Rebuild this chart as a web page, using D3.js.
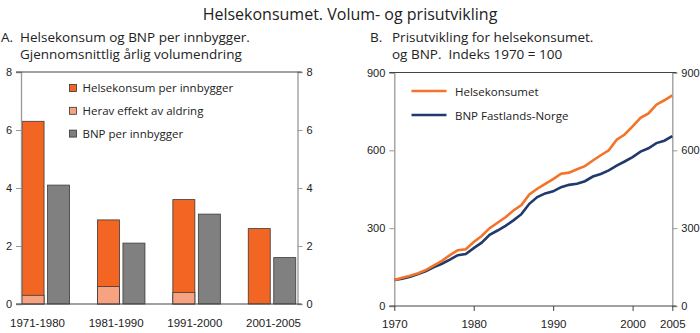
<!DOCTYPE html>
<html>
<head>
<meta charset="utf-8">
<script src="https://cdn.jsdelivr.net/npm/d3@7"></script>
<style>
  body { margin: 0; background: #fff; }
  svg { display: block; font-family: "Open Sans", "Noto Sans", sans-serif; }
</style>
</head>
<body>
<div id="chart"></div>
<script>
    // Panel A: average yearly volume growth per decade
    const perioder = ["1971-1980", "1981-1990", "1991-2000", "2001-2005"];
    const helsekonsum = [6.3, 2.9, 3.6, 2.6];
    const aldring = [0.3, 0.6, 0.4, 0];
    const bnpPerInnbygger = [4.1, 2.1, 3.1, 1.6];
    const ticksA = [0, 2, 4, 6, 8];

    // Panel B: price index, 1970 = 100
    const aar = d3.range(1970, 2006);
    const helsePris = [100, 109, 117, 126, 139, 157, 174, 196, 215, 219,
                       247, 270, 300, 321, 342, 368, 389, 430, 452, 471,
                       489, 510, 514, 527, 539, 561, 581, 600, 641, 661,
                       692, 725, 742, 776, 793, 812];
    const bnpPris = [100, 105, 113, 123, 135, 150, 163, 179, 196, 200,
                     223, 244, 274, 291, 309, 330, 354, 394, 420, 434,
                     442, 458, 467, 471, 481, 499, 509, 523, 541, 557,
                     574, 595, 608, 628, 637, 655];
    const ticksB = [0, 300, 600, 900];
    const aarTicks = [1970, 1980, 1990, 2000, 2005];

    const width = 700, height = 333;
    const farger = { helse: "#f26522", aldring: "#f7a382", bnp: "#808080",
                     linjeHelse: "#f37329", linjeBnp: "#1f3a6b" };

    const svg = d3.select("#chart").append("svg")
        .attr("width", width)
        .attr("height", height);

    svg.append("text")
        .attr("x", 350).attr("y", 20)
        .attr("text-anchor", "middle")
        .attr("font-size", 16)
        .attr("fill", "#222")
        .text("Helsekonsumet. Volum- og prisutvikling");

    // panel heading: letter in its own column, text indented
    function overskrift(g, x0, x1, linjer) {
        g.append("text").attr("font-size", 13.5).attr("fill", "#222")
            .selectAll("tspan")
            .data(linjer)
            .join("tspan")
            .attr("x", x0)
            .attr("y", (d, i) => 42 + i * 17)
            .call(t => t.append("tspan").text(d => d[0]))
            .call(t => t.append("tspan").attr("x", x1).text(d => d[1]));
    }

    // ---------- Panel A ----------
    const gA = svg.append("g");
    const yA = d3.scaleLinear().domain([0, 8]).range([304, 72]);
    const xA = d3.scalePoint().domain(perioder).range([45.8, 272]);
    const xLabA = d3.scalePoint().domain(perioder).range([37, 273]);
    const leftA = 21, rightA = 297.5, barW = 22, gap = 3.5;

    overskrift(gA, 1, 20, [["A.", "Helsekonsum og BNP per innbygger."],
                           ["", "Gjennomsnittlig årlig volumendring"]]);

    const bars = gA.append("g").selectAll("g")
        .data(perioder.map((p, i) => ({ p, h: helsekonsum[i], a: aldring[i], b: bnpPerInnbygger[i] })))
        .join("g");

    bars.append("rect")
        .attr("x", d => xA(d.p) - gap / 2 - barW)
        .attr("y", d => yA(d.h))
        .attr("width", barW)
        .attr("height", d => yA(0) - yA(d.h))
        .attr("fill", farger.helse)
        .attr("stroke", "#3a3a3a").attr("stroke-width", 0.8);

    bars.filter(d => d.a > 0).append("rect")
        .attr("x", d => xA(d.p) - gap / 2 - barW)
        .attr("y", d => yA(d.a))
        .attr("width", barW)
        .attr("height", d => yA(0) - yA(d.a))
        .attr("fill", farger.aldring)
        .attr("stroke", "#3a3a3a").attr("stroke-width", 0.8);

    bars.append("rect")
        .attr("x", d => xA(d.p) + gap / 2)
        .attr("y", d => yA(d.b))
        .attr("width", barW)
        .attr("height", d => yA(0) - yA(d.b))
        .attr("fill", farger.bnp)
        .attr("stroke", "#3a3a3a").attr("stroke-width", 0.8);

    // frame: grey side axes, dark top and bottom lines
    gA.append("g").attr("transform", `translate(${leftA},0)`)
        .call(d3.axisLeft(yA).tickValues(ticksA).tickSize(5).tickPadding(4))
        .call(g => g.select(".domain").attr("stroke", "#999").attr("stroke-width", 1.3))
        .call(g => g.selectAll("line").attr("stroke", "#999"))
        .call(g => g.selectAll("text").attr("font-size", 11).attr("fill", "#222").attr("font-family", null));
    gA.append("g").attr("transform", `translate(${rightA},0)`)
        .call(d3.axisRight(yA).tickValues(ticksA).tickSize(5).tickPadding(4))
        .call(g => g.select(".domain").attr("stroke", "#999").attr("stroke-width", 1.3))
        .call(g => g.selectAll("line").attr("stroke", "#999"))
        .call(g => g.selectAll("text").attr("font-size", 11).attr("fill", "#222").attr("font-family", null));
    gA.selectAll(".ramme").data([8, 0]).join("line")
        .attr("x1", leftA - 5).attr("x2", rightA + 4)
        .attr("y1", d => yA(d)).attr("y2", d => yA(d))
        .attr("stroke", "#444").attr("stroke-width", 1.2);

    gA.append("g").attr("transform", `translate(0,${yA(0)})`)
        .call(d3.axisBottom(xLabA).tickSize(0).tickPadding(15))
        .call(g => g.select(".domain").remove())
        .call(g => g.selectAll("text").attr("font-size", 11.5).attr("fill", "#222").attr("font-family", null));

    const legA = [
        { navn: "Helsekonsum per innbygger", farge: farger.helse },
        { navn: "Herav effekt av aldring", farge: farger.aldring },
        { navn: "BNP per innbygger", farge: farger.bnp }
    ];
    const legAg = gA.append("g").selectAll("g").data(legA).join("g")
        .attr("transform", (d, i) => `translate(69.5,${84.5 + i * 22.8})`);
    legAg.append("rect").attr("width", 7).attr("height", 7)
        .attr("fill", d => d.farge).attr("stroke", "#333").attr("stroke-width", 0.8);
    legAg.append("text").attr("x", 13).attr("y", 7.5)
        .attr("font-size", 11.5).attr("fill", "#222").text(d => d.navn);

    // ---------- Panel B ----------
    const gB = svg.append("g");
    const xB = d3.scaleLinear().domain([1970, 2005]).range([394.3, 672.3]);
    const yB = d3.scaleLinear().domain([0, 900]).range([306, 72.5]);

    overskrift(gB, 370, 392, [["B.", "Prisutvikling for helsekonsumet."],
                              ["", "og BNP.\u00a0 Indeks 1970 = 100"]]);

    gB.append("g").attr("transform", `translate(${xB(1970)},0)`)
        .call(d3.axisLeft(yB).tickValues(ticksB).tickSize(5).tickPadding(4))
        .call(g => g.select(".domain").attr("stroke", "#999").attr("stroke-width", 1.3))
        .call(g => g.selectAll("line").attr("stroke", "#999"))
        .call(g => g.selectAll("text").attr("font-size", 11).attr("fill", "#222").attr("font-family", null));
    gB.append("g").attr("transform", `translate(${xB(2005)},0)`)
        .call(d3.axisRight(yB).tickValues(ticksB).tickSize(5).tickPadding(4))
        .call(g => g.select(".domain").attr("stroke", "#999").attr("stroke-width", 1.3))
        .call(g => g.selectAll("line").attr("stroke", "#999"))
        .call(g => g.selectAll("text").attr("font-size", 11).attr("fill", "#222").attr("font-family", null));
    gB.append("g").attr("transform", `translate(0,${yB(0)})`)
        .call(d3.axisBottom(xB).tickValues(aarTicks).tickFormat(d3.format("d")).tickSize(5).tickPadding(9))
        .call(g => g.select(".domain").remove())
        .call(g => g.selectAll("line").attr("stroke", "#444"))
        .call(g => g.selectAll("text").attr("font-size", 11.5).attr("fill", "#222").attr("font-family", null));
    gB.selectAll(".ramme").data([900, 0]).join("line")
        .attr("x1", xB(1970) - 5).attr("x2", xB(2005) + 4)
        .attr("y1", d => yB(d)).attr("y2", d => yB(d))
        .attr("stroke", "#444").attr("stroke-width", 1.2);

    const linje = d3.line().x((d, i) => xB(aar[i])).y(d => yB(d));
    gB.append("path").datum(bnpPris)
        .attr("d", linje).attr("fill", "none")
        .attr("stroke", farger.linjeBnp).attr("stroke-width", 2.6);
    gB.append("path").datum(helsePris)
        .attr("d", linje).attr("fill", "none")
        .attr("stroke", farger.linjeHelse).attr("stroke-width", 2.6);

    const legB = [
        { navn: "Helsekonsumet", farge: farger.linjeHelse },
        { navn: "BNP Fastlands-Norge", farge: farger.linjeBnp }
    ];
    const legBg = gB.append("g").selectAll("g").data(legB).join("g")
        .attr("transform", (d, i) => `translate(411.5,${91 + i * 24})`);
    legBg.append("line").attr("x1", 0).attr("x2", 35)
        .attr("stroke", d => d.farge).attr("stroke-width", 2.6);
    legBg.append("text").attr("x", 43.5).attr("y", 4.5)
        .attr("font-size", 11.5).attr("fill", "#222").text(d => d.navn);
</script>
</body>
</html>
